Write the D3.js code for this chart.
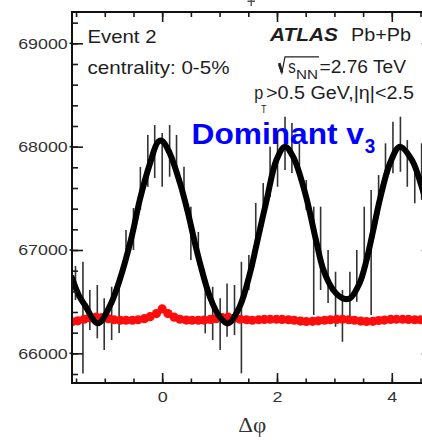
<!DOCTYPE html>
<html>
<head>
<meta charset="utf-8">
<script src="https://cdn.jsdelivr.net/npm/d3@7"></script>
<style>
  body { margin: 0; background: #fff; }
  svg { display: block; }
</style>
</head>
<body>
<div id="chart"></div>
<script>
// fitted curve (dphi, counts)
let curvePhi = [-1.57, -1.45, -1.35, -1.12, -0.91, -0.74, -0.53, -0.39, -0.21, -0.07, 0.00,
  0.13, 0.31, 0.45, 0.57, 0.66, 0.83, 1.00, 1.15, 1.35, 1.53, 1.65, 1.82, 1.99, 2.14,
  2.28, 2.49, 2.69, 2.81, 2.98, 3.15, 3.27, 3.44, 3.56, 3.68, 3.79, 3.97, 4.14, 4.35, 4.52, 4.71];
let curveVal = [66730, 66560, 66470, 66290, 66460, 66710, 67130, 67485, 67842, 68048, 68055,
  67939, 67649, 67358, 67068, 66870, 66548, 66354, 66290, 66451, 66777, 67068, 67484, 67871, 68000,
  67903, 67552, 67068, 66806, 66613, 66532, 66532, 66680, 66903, 67200, 67484, 67842, 68000, 67871, 67613, 67230];

// single event histogram, error bars only (low / high edge)
let barPhi = [-1.51, -1.38, -1.26, -1.13, -1.01, -0.88, -0.75, -0.63, -0.50, -0.38, -0.25, -0.13,
  0.00, 0.13, 0.25, 0.38, 0.50, 0.63, 0.75, 0.88, 1.01, 1.13, 1.26, 1.38, 1.51, 1.63, 1.76, 1.88,
  2.01, 2.14, 2.26, 2.39, 2.51, 2.64, 2.76, 2.89, 3.02, 3.14, 3.27, 3.39, 3.52, 3.64, 3.77, 3.89,
  4.02, 4.15, 4.27, 4.40, 4.52];
let barLo = [66516, 65806, 66225, 66145, 66032, 66129, 66196, 66871, 67000, 67387, 67612, 67697,
  67612, 67709, 67745, 67515, 66903, 66855, 66194, 66129, 66032, 66161, 66177, 65806, 66613, 67048,
  67358, 67515, 67612, 67774, 67745, 67677, 67387, 66371, 66613, 66487, 66257, 66112, 66290, 66499,
  66838, 66371, 67338, 67677, 67742, 67757, 67612, 67452, 67484];
let barHi = [66845, 66886, 66613, 66661, 66532, 66644, 66709, 67193, 67406, 67803, 68113, 68209,
  68132, 68209, 68113, 67806, 67419, 67174, 66644, 66644, 66532, 66677, 66661, 66886, 66951, 67455,
  67648, 67999, 68144, 68290, 68229, 68032, 67677, 67419, 67419, 67000, 66790, 66613, 66790, 67000,
  67419, 67580, 67725, 68032, 68241, 68290, 68064, 67806, 68032];

// mixed-event background (red)
let mixPhi = [-1.57, -1.47, -1.36, -1.26, -1.15, -1.05, -0.94, -0.84, -0.73, -0.63, -0.52, -0.42,
  -0.31, -0.21, -0.10, 0.00, 0.10, 0.21, 0.31, 0.42, 0.52, 0.63, 0.73, 0.84, 0.94, 1.05, 1.15,
  1.26, 1.36, 1.47, 1.57, 1.68, 1.78, 1.88, 1.99, 2.09, 2.20, 2.30, 2.41, 2.51, 2.62, 2.72, 2.83,
  2.93, 3.04, 3.14, 3.25, 3.35, 3.46, 3.56, 3.67, 3.77, 3.87, 3.98, 4.08, 4.19, 4.29, 4.40, 4.50,
  4.61, 4.71];
let mixVal = [66305, 66315, 66330, 66345, 66350, 66345, 66335, 66325, 66320, 66320, 66320, 66325,
  66335, 66355, 66385, 66430, 66385, 66350, 66330, 66322, 66320, 66320, 66322, 66328, 66335, 66345,
  66350, 66340, 66330, 66325, 66320, 66325, 66328, 66330, 66330, 66328, 66325, 66320, 66312, 66308,
  66310, 66315, 66320, 66325, 66328, 66330, 66325, 66320, 66312, 66308, 66310, 66318, 66322, 66328,
  66330, 66330, 66328, 66325, 66325, 66325, 66325];

let yTicks = [66000, 67000, 68000, 69000];
let yTickLabels = ['66000', '67000', '68000', '69000'];
let xTicks = [0, 2, 4];
let xTickLabels = ['0', '2', '4'];

let width = 422;
let height = 440;
let plotL = 72, plotR = 432.7, plotT = 12, plotB = 383;

let x = d3.scaleLinear().domain([-Math.PI / 2, 3 * Math.PI / 2]).range([plotL, plotR]);
let y = d3.scaleLinear().domain([65713, 69303]).range([plotB, plotT]);

let svg = d3.select('#chart').append('svg')
    .attr('width', width)
    .attr('height', height)
    .style('font-family', "'Liberation Sans', Arial, Helvetica, sans-serif");

svg.append('defs').append('clipPath')
    .attr('id', 'plotClip')
  .append('rect')
    .attr('x', plotL).attr('y', plotT)
    .attr('width', plotR - plotL).attr('height', plotB - plotT);

let plot = svg.append('g').attr('clip-path', 'url(#plotClip)');

// error bars
plot.append('g').selectAll('line')
    .data(barPhi)
  .enter().append('line')
    .attr('x1', function(d) { return x(d); })
    .attr('x2', function(d) { return x(d); })
    .attr('y1', function(d, i) { return y(barHi[i]); })
    .attr('y2', function(d, i) { return y(barLo[i]); })
    .attr('stroke', '#333')
    .attr('stroke-width', 1.6);

// mixed event points
plot.append('g').selectAll('circle')
    .data(mixPhi)
  .enter().append('circle')
    .attr('cx', function(d) { return x(d); })
    .attr('cy', function(d, i) { return y(mixVal[i]); })
    .attr('r', 4.6)
    .attr('fill', '#ff0d0d');

// fit curve
let fitLine = d3.line()
    .x(function(d) { return x(d); })
    .y(function(d, i) { return y(curveVal[i]); })
    .curve(d3.curveCatmullRom.alpha(0.5));

plot.append('path')
    .datum(curvePhi)
    .attr('d', fitLine)
    .attr('fill', 'none')
    .attr('stroke', '#000')
    .attr('stroke-width', 6)
    .attr('stroke-linecap', 'round');

// ticks on all four sides
function ticks(axis, tx, ty, size, values) {
  let g = svg.append('g')
      .attr('transform', 'translate(' + tx + ',' + ty + ')')
      .call(axis.tickValues(values).tickSize(size).tickFormat(''));
  g.select('.domain').remove();
  g.selectAll('line').attr('stroke', '#1a1a1a').attr('stroke-width', 1.6);
}
let yMinor = d3.range(65800, 69301, 200);
let xMinor = d3.range(-1.5, 4.71, 0.5);
ticks(d3.axisRight(y), plotL, 0, 11, yTicks);
ticks(d3.axisRight(y), plotL, 0, 6, yMinor);
ticks(d3.axisLeft(y), plotR, 0, 11, yTicks);
ticks(d3.axisLeft(y), plotR, 0, 6, yMinor);
ticks(d3.axisTop(x), 0, plotB, 10, xTicks);
ticks(d3.axisTop(x), 0, plotB, 4.5, xMinor);
ticks(d3.axisBottom(x), 0, plotT, 10, xTicks);
ticks(d3.axisBottom(x), 0, plotT, 5, xMinor);

// little outward stub of major y ticks
svg.append('g').selectAll('line')
    .data(yTicks)
  .enter().append('line')
    .attr('x1', plotL - 2.5).attr('x2', plotL)
    .attr('y1', function(d) { return y(d); })
    .attr('y2', function(d) { return y(d); })
    .attr('stroke', '#1a1a1a').attr('stroke-width', 1.6);

// frame
svg.append('path')
    .attr('d', 'M' + plotR + ',' + plotT + 'H' + plotL + 'V' + plotB + 'H' + plotR + 'Z')
    .attr('fill', 'none')
    .attr('stroke', '#111')
    .attr('stroke-width', 2);

// stray mark above the frame
svg.append('path')
    .attr('d', 'M247.5,1.2H255M251.2,0V6')
    .attr('stroke', '#555')
    .attr('stroke-width', 1.4);

// text helper: stretched horizontally like the source figure
function label(str, px, py, opts) {
  opts = opts || {};
  let t = svg.append('text')
      .attr('x', px)
      .attr('y', py)
      .attr('font-size', opts.size || 17.5)
      .attr('fill', opts.fill || '#1e1e1e')
      .attr('text-anchor', opts.anchor || 'start')
      .text(str);
  if (opts.weight) t.attr('font-weight', opts.weight);
  if (opts.style) t.attr('font-style', opts.style);
  if (opts.family) t.attr('font-family', opts.family);
  if (opts.len) t.attr('textLength', opts.len).attr('lengthAdjust', 'spacingAndGlyphs');
  return t;
}

// tick labels
yTicks.forEach(function(v, i) {
  label(yTickLabels[i], 67.7, y(v) + 5.5, {size: 15.5, fill: '#333', anchor: 'end', len: 49.5});
});
xTicks.forEach(function(v, i) {
  label(xTickLabels[i], x(v) + 0.5, 402, {size: 15.5, fill: '#333', anchor: 'middle', len: 10});
});
label('\u0394\u03c6', (plotL + plotR) / 2, 432, {size: 20.5, fill: '#333', anchor: 'middle',
  family: "'Liberation Serif', 'Times New Roman', serif", len: 28});

// annotations
label('Event 2', 87.5, 43, {size: 18.5, len: 69});
label('centrality: 0-5%', 87.5, 74, {size: 18.5, len: 142});
label('ATLAS', 270, 41, {size: 17.5, weight: 'bold', style: 'italic', len: 68});
label('Pb+Pb', 351, 41, {size: 17.5, len: 60});

svg.append('path')
    .attr('d', 'M278.6,64.5L281.8,73L285,56.8H319')
    .attr('fill', 'none')
    .attr('stroke', '#222')
    .attr('stroke-width', 1.2);
svg.append('path')
    .attr('d', 'M279.3,63L282,72.5')
    .attr('stroke', '#222')
    .attr('stroke-width', 2.6);
label('s', 288.3, 72.7, {size: 17.5, len: 7.5});
label('NN', 296, 79, {size: 12, len: 22});
label('=2.76 TeV', 319.5, 72.7, {size: 17.5, len: 86.5});

label('p', 254.3, 99.3, {size: 17.5, len: 9});
label('T', 261, 113, {size: 10, len: 5.5});
label('>0.5 GeV,|\u03b7|<2.5', 266, 99.3, {size: 17.5, len: 148});

label('Dominant v', 191.5, 144, {size: 30, weight: 'bold', fill: '#0000ff', len: 172.5});
label('3', 364.8, 153, {size: 20, weight: 'bold', fill: '#0000ff', len: 10.5});
</script>
</body>
</html>
